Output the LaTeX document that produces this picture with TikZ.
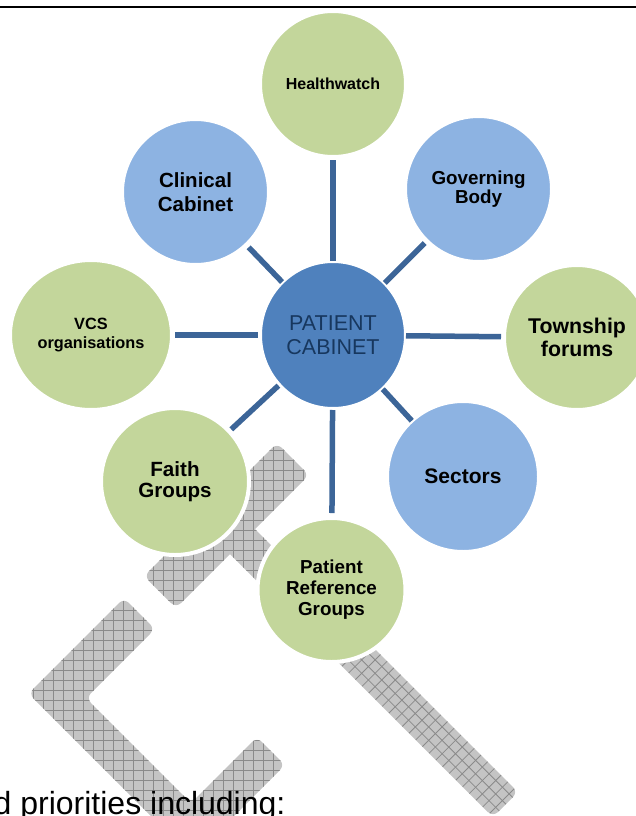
\documentclass[tikz,border=0pt]{standalone}
\usepackage{fontspec}
\setmainfont{Liberation Sans}
\usetikzlibrary{shapes.geometric}

\definecolor{leaf}{HTML}{C3D69B}
\definecolor{sky}{HTML}{8DB3E2}
\definecolor{core}{HTML}{4F81BD}
\definecolor{navy}{HTML}{17375E}
\definecolor{spokeblue}{HTML}{3C6598}
\definecolor{hatchfill}{HTML}{C4C4C4}
\definecolor{hatchline}{HTML}{8A8A8A}

\newcommand\labelsize[2]{\fontsize{#1}{#2}\selectfont}

\begin{document}
\begin{tikzpicture}[x=1pt,y=-1pt,
  bubble/.style={ellipse, draw=white, line width=4pt, inner sep=0pt,
    outer sep=0pt, align=center, text=black},
  leafnode/.style={bubble, fill=leaf},
  skynode/.style={bubble, fill=sky},
  spoke/.style={draw=spokeblue, line width=5.5pt},
  hatchgrid/.style={draw=hatchline, line width=0.8pt},
]
\useasboundingbox (0,0) rectangle (636,816);
\clip (0,0) rectangle (636,816);

% page rule
\draw[line width=2.3pt] (0,7.2) -- (636,7.2);

% ---- cross-hatched logo behind the diagram ----
% long diagonal band
\fill[hatchfill, rounded corners=7pt]
  (214,538) -- (239,513) -- (518,792) -- (493,817) -- cycle;
\begin{scope}
  \clip[rounded corners=7pt] (214,538) -- (239,513) -- (518,792) -- (493,817) -- cycle;
  \begin{scope}
    \clip (0,0) -- (900,0) -- (0,900) -- cycle;
    \draw[hatchgrid] \foreach \k in {0,...,60} {(\k*10+3,400) -- (\k*10+3,900)};
    \draw[hatchgrid] \foreach \k in {0,...,50} {(0,\k*10+400) -- (640,\k*10+400)};
  \end{scope}
  \begin{scope}
    \clip (900,0) -- (1600,0) -- (1600,1600) -- (0,1600) -- (0,900) -- cycle;
    \draw[hatchgrid] \foreach \k in {0,...,8} {(0,\k*13.4+258) -- (1000,\k*13.4+1258)};
    \draw[hatchgrid] \foreach \k in {0,...,60} {(\k*13.4+700,0) -- (\k*13.4-300,1000)};
  \end{scope}
\end{scope}

% short bar crossing it
\fill[hatchfill, rounded corners=7pt]
  (144,576) -- (176,608) -- (309,475) -- (277,443) -- cycle;
\begin{scope}
  \clip[rounded corners=7pt] (144,576) -- (176,608) -- (309,475) -- (277,443) -- cycle;
  \draw[hatchgrid] \foreach \k in {0,...,40} {(\k*10+3,400) -- (\k*10+3,900)};
  \draw[hatchgrid] \foreach \k in {0,...,50} {(0,\k*10+400) -- (640,\k*10+400)};
\end{scope}

% open frame at the lower left
\fill[hatchfill, rounded corners=7pt]
  (124,598) -- (155,629) -- (86,698) -- (191,803) -- (257,737) -- (285,765)
  -- (192.5,857.5) -- (28.5,693.5) -- cycle;
\begin{scope}
  \clip[rounded corners=7pt]
    (124,598) -- (155,629) -- (86,698) -- (191,803) -- (257,737) -- (285,765)
    -- (192.5,857.5) -- (28.5,693.5) -- cycle;
  \draw[hatchgrid] \foreach \k in {0,...,40} {(\k*10+3,400) -- (\k*10+3,900)};
  \draw[hatchgrid] \foreach \k in {0,...,50} {(0,\k*10+400) -- (640,\k*10+400)};
\end{scope}

% ---- bubbles ----
\node[leafnode, minimum width=146pt, minimum height=146pt,
  font=\labelsize{16}{19}\bfseries] (hw) at (333,84) {Healthwatch};
\node[skynode, minimum width=147pt, minimum height=146pt,
  font=\labelsize{20.5}{24}\bfseries] (cc) at (195.5,192) {Clinical\\Cabinet};
\node[skynode, minimum width=147pt, minimum height=146pt,
  font=\labelsize{18.8}{18.5}\bfseries] (gb) at (478.5,189) {Governing\\Body};
\node[bubble, fill=core, text=navy, minimum width=146pt, minimum height=148pt,
  font=\labelsize{21.5}{24.5}] (pc) at (333,335) {PATIENT\\CABINET};
\node[leafnode, minimum width=162pt, minimum height=150pt,
  font=\labelsize{16.3}{18.5}\bfseries] (vcs) at (91,335) {VCS\\organisations};
\node[leafnode, minimum width=146pt, minimum height=145pt,
  font=\labelsize{21.3}{23}\bfseries] (tf) at (577,337.5) {Township\\forums};
\node[leafnode, minimum width=148pt, minimum height=147pt,
  font=\labelsize{20.6}{20.5}\bfseries] (fg) at (175,481.5) {Faith\\Groups};
\node[skynode, minimum width=152pt, minimum height=151pt,
  font=\labelsize{21}{24}\bfseries] (se) at (463,476.5) {Sectors};
\node[leafnode, minimum width=148pt, minimum height=144pt,
  font=\labelsize{18.8}{21}\bfseries] (prg) at (331.5,590) {Patient\\Reference\\Groups};

% ---- spokes ----
\draw[spoke, shorten <=3pt] (hw) -- (pc);
\draw[spoke, shorten <=3.5pt] (cc) -- (pc);
\draw[spoke, shorten <=3pt] (gb) -- (pc);
\draw[spoke, shorten <=3pt, shorten >=2pt] (vcs) -- (pc);
\draw[spoke, shorten >=3pt] (pc) -- (tf);
\draw[spoke, shorten <=1pt, shorten >=3pt] (pc) -- (fg);
\draw[spoke] (pc) -- (se);
\draw[spoke, shorten <=1pt, shorten >=5pt] (pc) -- (prg);

% running text below
\node[anchor=base west, inner sep=0pt, font=\labelsize{32}{38}] (tail)
  at (-6.5,814) {d priorities including:};
\end{tikzpicture}
\end{document}
